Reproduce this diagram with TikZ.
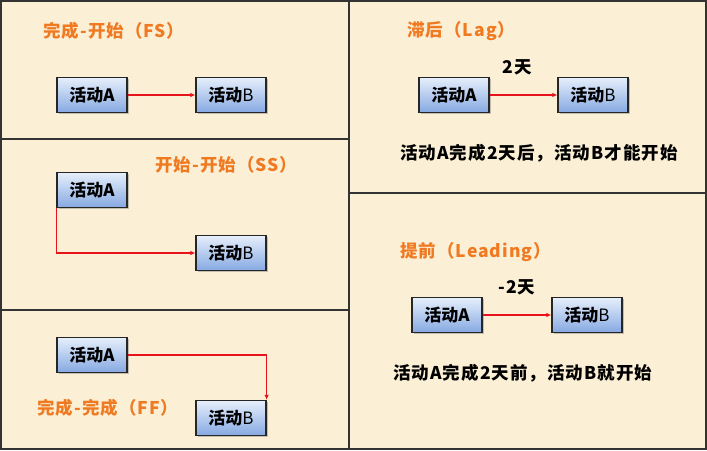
\documentclass[tikz,border=0pt]{standalone}
\usepackage{fontspec}
\setmainfont{Noto Sans CJK SC}
\newfontfamily\spaced{Noto Sans CJK SC}[LetterSpace=6]
\usetikzlibrary{arrows.meta,shadows}
\definecolor{bgc}{HTML}{FBF0D6}
\definecolor{ttl}{HTML}{F07A22}
\definecolor{boxtop}{HTML}{E6EFFB}
\definecolor{boxbot}{HTML}{86A9E2}
\definecolor{arr}{HTML}{E8141C}
\begin{document}
\begin{tikzpicture}[x=1pt,y=-1pt,
  act/.style={draw=black!85, line width=1.2pt, top color=boxtop, bottom color=boxbot,
    minimum width=70pt, minimum height=35pt, inner sep=0pt, font=\fontsize{17}{19}\selectfont\bfseries,
    drop shadow={shadow xshift=1.5pt, shadow yshift=-1.5pt, opacity=0.45}},
  ttlstyle/.style={text=ttl, font=\spaced\fontsize{17.5}{19}\selectfont\bfseries, inner sep=0pt},
  txt/.style={font=\spaced\fontsize{17.5}{19}\selectfont\bfseries, inner sep=0pt},
  link/.style={draw=arr, line width=1.3pt, -{Latex[length=5pt,width=4.5pt]}},
  frame/.style={draw=black!80, line width=1.4pt}]
\useasboundingbox (0,0) rectangle (707,450);
\fill[bgc] (0,0) rectangle (707,450);
\draw[frame] (1,1) rectangle (706,449);
\draw[frame] (349,1) -- (349,449);
\draw[frame] (1,139) -- (349,139);
\draw[frame] (1,310) -- (349,310);
\draw[frame] (349,193) -- (706,193);
% FS
\node[ttlstyle, anchor=west] (t1) at (43,31) {完成-开始（FS）};
\node[act] (a1) at (92,95) {活动A};
\node[act] (b1) at (231,95) {活动\textmd{B}};
\draw[link] (a1) -- (b1);
% SS
\node[ttlstyle, anchor=west] (t2) at (155,165) {开始-开始（SS）};
\node[act] (a2) at (92,190) {活动A};
\node[act] (b2) at (231,253) {活动\textmd{B}};
\coordinate (c2) at (a2.south west);
\draw[link] (c2) |- (b2.west);
% FF
\node[act] (a3) at (92,355) {活动A};
\node[act] (b3) at (231,418) {活动\textmd{B}};
\node[ttlstyle, anchor=west] (t3) at (37,408) {完成-完成（FF）};
\draw[link] (a3.east) -| (b3.north east);
% Lag
\node[ttlstyle, anchor=west] (t4) at (407,31) {滞后（Lag）};
\node[txt] (l4) at (517,67) {2天};
\node[act] (a4) at (454,95) {活动A};
\node[act] (b4) at (593,95) {活动\textmd{B}};
\draw[link] (a4) -- (b4);
\node[txt, anchor=west] (s4) at (400,153) {活动A完成2天后，活动B才能开始};
% Leading
\node[ttlstyle, anchor=west] (t5) at (400,252) {提前（Leading）};
\node[txt] (l5) at (517,287) {-2天};
\node[act] (a5) at (447,315) {活动A};
\node[act] (b5) at (587,315) {活动\textmd{B}};
\draw[link] (a5) -- (b5);
\node[txt, anchor=west] (s5) at (393,373) {活动A完成2天前，活动B就开始};
\end{tikzpicture}
\end{document}
